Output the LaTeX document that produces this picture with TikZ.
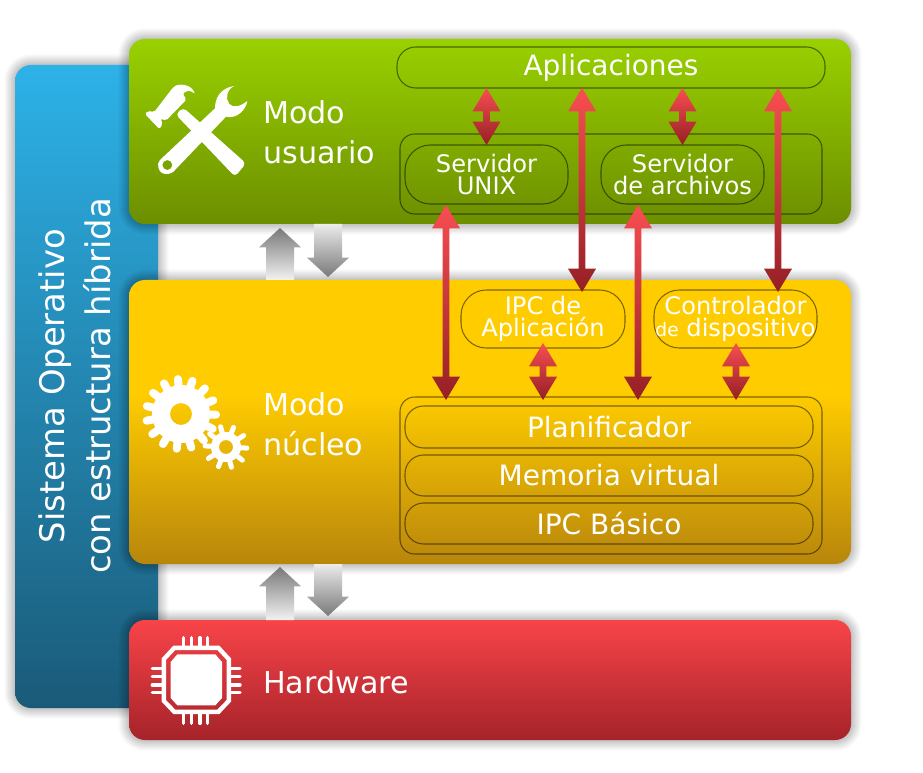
\documentclass[tikz,border=0pt]{standalone}
\usepackage{fontspec}
\setmainfont{DejaVu Sans}
\usetikzlibrary{calc}
\definecolor{green0}{HTML}{99D100}
\definecolor{green1}{HTML}{6C8E00}
\definecolor{yellow0}{HTML}{FFCC00}
\definecolor{yellow1}{HTML}{B8860B}
\definecolor{red0}{HTML}{F84449}
\definecolor{red1}{HTML}{A52329}
\definecolor{blue0}{HTML}{2DB2E8}
\definecolor{blue1}{HTML}{1A5A78}
\pgfdeclareverticalshading{yellowfade}{100bp}{color(0bp)=(yellow1); color(25bp)=(yellow1); color(55bp)=(yellow0); color(100bp)=(yellow0)}
\begin{document}
\begin{tikzpicture}[
  x=.75pt, y=-.75pt,
  softshadow/.style={
    preaction={draw=black, draw opacity=.025, line width=16pt},
    preaction={draw=black, draw opacity=.025, line width=14pt},
    preaction={draw=black, draw opacity=.03, line width=12pt},
    preaction={draw=black, draw opacity=.03, line width=10pt},
    preaction={draw=black, draw opacity=.03, line width=8pt},
    preaction={draw=black, draw opacity=.035, line width=6pt},
    preaction={draw=black, draw opacity=.035, line width=4pt},
    preaction={draw=black, draw opacity=.04, line width=2pt}},
  sized/.style 2 args={minimum width=#1*.75pt, minimum height=#2*.75pt, inner sep=0pt, outer sep=0pt},
  panel/.style={rectangle, rounded corners=12pt, softshadow},
  greenPanel/.style={panel, top color=green0, bottom color=green1},
  yellowPanel/.style={panel, shading=yellowfade},
  redPanel/.style={panel, top color=red0, bottom color=red1},
  bluePanel/.style={panel, top color=blue0, bottom color=blue1},
  box/.style={rectangle, draw=black, draw opacity=.5, line width=.8pt, text=white, align=center},
  flatBox/.style={box, rounded corners=14pt, font=\fontsize{21}{22}\selectfont},
  tallBox/.style={box, rounded corners=19pt, font=\fontsize{18.1}{16.5}\selectfont},
  groupBox/.style={box, rounded corners=11pt},
  modeLabel/.style={anchor=west, align=left, inner sep=0pt, text=white, font=\fontsize{22.6}{30}\selectfont},
  icon/.style={fill=white, draw=none},
  redlink/.style={shade, top color=red0!95!white, bottom color=red1!90!black, draw=none,
    to path={let \p1=(\tikztostart), \p2=(\tikztotarget) in
      (\x1,\y1) -- (\x1+10.5pt,\y1-17.5pt) -- (\x1+2.6pt,\y1-17.5pt)
      -- (\x1+2.6pt,\y2+17.5pt) -- (\x1+10.5pt,\y2+17.5pt) -- (\x1,\y2)
      -- (\x1-10.5pt,\y2+17.5pt) -- (\x1-2.6pt,\y2+17.5pt)
      -- (\x1-2.6pt,\y1-17.5pt) -- (\x1-10.5pt,\y1-17.5pt) -- cycle}},
  graylink/.style={shade, draw=none,
    to path={let \p1=(\tikztostart), \p2=(\tikztotarget), \n1={sign(\y2-\y1)} in
      (\x1-10.5pt,\y1) -- (\x1+10.5pt,\y1) -- (\x1+10.5pt,\y2-\n1*14.5pt)
      -- (\x1+15.75pt,\y2-\n1*14.5pt) -- (\x1,\y2)
      -- (\x1-15.75pt,\y2-\n1*14.5pt) -- (\x1-10.5pt,\y2-\n1*14.5pt) -- cycle}},
  grayUp/.style={graylink, top color=gray!95!black, bottom color=gray!10},
  grayDown/.style={graylink, top color=gray!15, bottom color=gray!95!black}
  ]
  \useasboundingbox (0,0) rectangle (923,773);

  % paneles
  \node[bluePanel, sized={143}{643}] (sistema) at (86.5,386.5) {};
  \node[greenPanel, sized={722}{185}] (usuario) at (490,131.5) {};
  \node[yellowPanel, sized={722}{284}] (nucleo) at (490,422) {};
  \node[redPanel, sized={722}{120}] (hardware) at (490,680) {};

  \node[rotate=90, align=center, inner sep=0pt, text=white, font=\fontsize{25.4}{34.5}\selectfont] (sistemaText) at (75,386)
    {Sistema Operativo\\con estructura híbrida};
  \node[modeLabel] (usuarioText) at (263,132) {Modo\\usuario};
  \node[modeLabel] (nucleoText) at (263,424) {Modo\\núcleo};
  \node[modeLabel] (hardwareText) at (263,682) {Hardware};

  % cajas
  \node[flatBox, sized={428}{41}] (aplicaciones) at (611,67.5) {Aplicaciones};
  \node[groupBox, sized={422}{80}] (servidores) at (611,174) {};
  \node[tallBox, sized={163}{59}] (unix) at (486.5,174.5) {Servidor\\UNIX};
  \node[tallBox, sized={163}{59}] (archivos) at (682.5,174.5) {Servidor\\de archivos};

  \node[tallBox, sized={164}{58}] (ipcApp) at (543,319) {IPC de\\Aplicación};
  \node[tallBox, sized={163}{58}] (driver) at (735.5,319) {Controlador\\{\fontsize{14}{16.5}\selectfont de} dispositivo};
  \node[groupBox, sized={422}{157}] (kernel) at (611,475.5) {};
  \node[flatBox, sized={408}{42}] (planif) at (609,427) {Planificador};
  \node[flatBox, sized={408}{41}] (memoria) at (609,475.5) {Memoria virtual};
  \node[flatBox, sized={408}{41}] (ipcBase) at (609,523.5) {IPC Básico};

  % flechas
  \coordinate (subeA) at (280,228);
  \coordinate (bajaA) at (328,277);
  \coordinate (subeB) at (280,567);
  \coordinate (bajaB) at (328,616);
  \path[grayUp] (nucleo.north -| subeA) to (subeA);
  \path[grayDown] (usuario.south -| bajaA) to (bajaA);
  \path[grayUp] (hardware.north -| subeB) to (subeB);
  \path[grayDown] (nucleo.south -| bajaB) to (bajaB);

  \coordinate (linkA) at (582,292);
  \coordinate (linkB) at (778,292);
  \coordinate (linkC) at (446,205);
  \coordinate (linkD) at (638,205);
  \coordinate (linkE) at (543,343);
  \coordinate (linkF) at (736,343);
  \coordinate (floor) at (611,400);
  \path[redlink] (aplicaciones.south -| unix.north) to (unix.north);
  \path[redlink] (aplicaciones.south -| archivos.north) to (archivos.north);
  \path[redlink] (aplicaciones.south -| linkA) to (linkA);
  \path[redlink] (aplicaciones.south -| linkB) to (linkB);
  \path[redlink] (linkC) to (floor -| linkC);
  \path[redlink] (linkD) to (floor -| linkD);
  \path[redlink] (linkE) to (floor -| linkE);
  \path[redlink] (linkF) to (floor -| linkF);

  % martillo y llave
  \begin{scope}[shift={(140,80)}, x=.25pt, y=-.25pt]
    \fill[icon, even odd rule] (60,240) -- (225,85) .. controls (225,55) and (240,25) .. (282,18)
      .. controls (260,30) and (255,55) .. (268,72) .. controls (280,85) and (300,80) .. (322,63)
      .. controls (318,90) and (290,118) .. (258,110) -- (105,270)
      .. controls (95,285) and (60,290) .. (55,262) .. controls (52,255) and (55,245) .. (60,240) -- cycle
      (82,255) circle (15);
    \fill[icon, rounded corners=3pt] (107,103) -- (130,83) -- (318,250) -- (285,290) -- cycle;
    \fill[icon, rounded corners=1.5pt] (15,102) -- (25,92) -- (42,97) -- (97,25) .. controls (115,8) and (155,13) .. (165,43)
      .. controls (152,30) and (140,32) .. (128,42) -- (140,58) -- (78,122) -- (62,116) -- (68,133) -- (58,147) -- cycle;
  \end{scope}

  % engranajes
  \foreach \a in {1,25,...,337}
    \draw[white, line width=6pt, line cap=round] (181,414) ++(\a:28) -- ++(\a:7);
  \fill[icon, even odd rule] (181,414) circle (29) (181,414) circle (11);
  \foreach \a in {3,39,...,327}
    \draw[white, line width=3.75pt, line cap=round] (226,447) ++(\a:14) -- ++(\a:7);
  \fill[icon, even odd rule] (226,447) circle (15) (226,447) circle (7);

  % chip
  \begin{scope}[shift={(130,560)}, x=.25pt, y=-.25pt]
    \fill[icon, even odd rule] (130,257) -- (268,257) -- (303,295) -- (303,425) -- (268,462) -- (130,462) -- (95,425) -- (95,295) -- cycle
      (136,270) -- (262,270) -- (290,300) -- (290,420) -- (262,449) -- (136,449) -- (108,420) -- (108,300) -- cycle
      (142,283) -- (256,283) -- (276,306) -- (276,414) -- (256,436) -- (142,436) -- (122,414) -- (122,306) -- cycle;
    \foreach \p in {160,185,210,233} {
      \draw[white, line width=2.6pt, line cap=round] (\p,233) -- (\p,257);
      \draw[white, line width=2.6pt, line cap=round] (\p,462) -- (\p,490);
    }
    \foreach \p in {325,350,375,398} {
      \draw[white, line width=2.6pt, line cap=round] (67,\p) -- (95,\p);
      \draw[white, line width=2.6pt, line cap=round] (303,\p) -- (330,\p);
    }
  \end{scope}
\end{tikzpicture}
\end{document}
